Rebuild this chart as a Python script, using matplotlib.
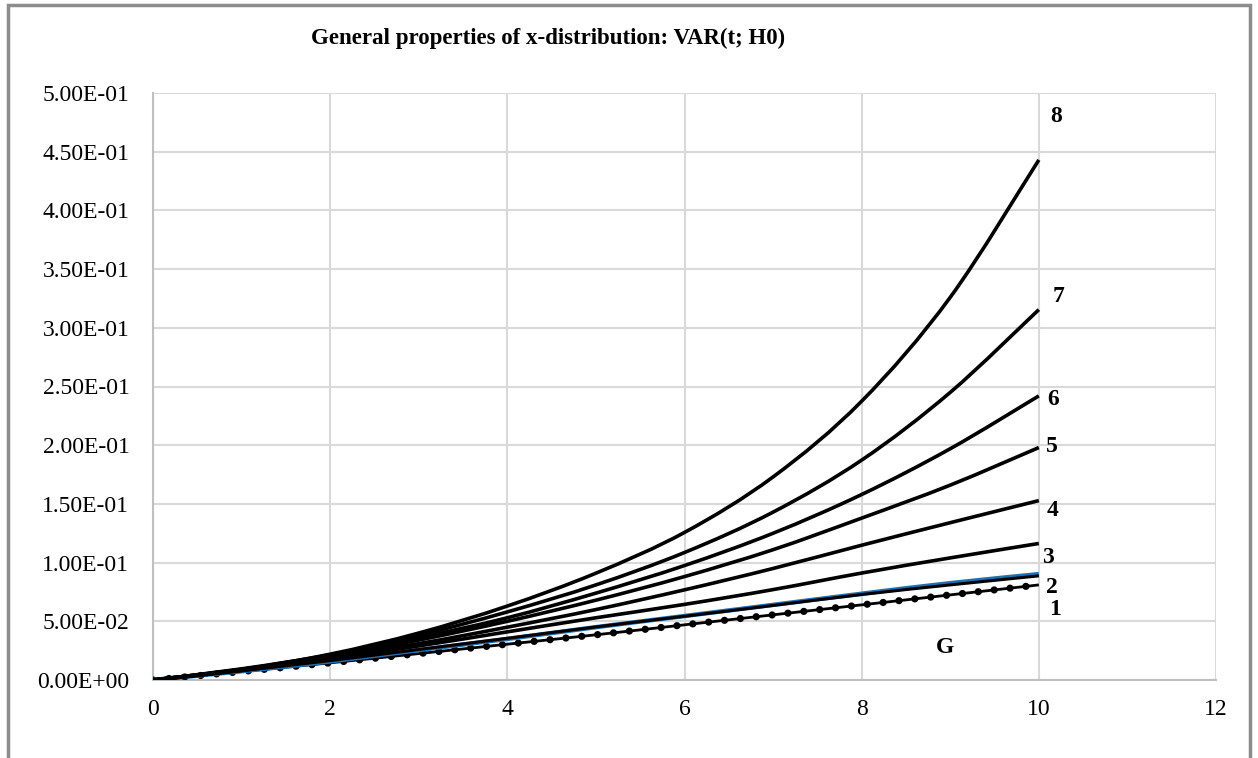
import matplotlib.pyplot as plt
from matplotlib.patches import Rectangle, PathPatch
from matplotlib.path import Path

t = [0, 1, 2, 3, 4, 5, 6, 7, 8, 9, 10]

var_8 = [0, 0.009, 0.022, 0.040, 0.063, 0.091, 0.1257, 0.173, 0.2375, 0.326, 0.443]
var_7 = [0, 0.0095, 0.0215, 0.038, 0.058, 0.081, 0.1086, 0.143, 0.1873, 0.245, 0.3155]
var_6 = [0, 0.009, 0.021, 0.036, 0.053, 0.074, 0.0975, 0.125, 0.158, 0.197, 0.242]
var_5 = [0, 0.009, 0.020, 0.034, 0.050, 0.068, 0.0881, 0.111, 0.1379, 0.166, 0.198]
var_4 = [0, 0.0085, 0.0195, 0.031, 0.045, 0.060, 0.0768, 0.095, 0.1148, 0.134, 0.1528]
var_3 = [0, 0.008, 0.018, 0.029, 0.041, 0.053, 0.0644, 0.077, 0.0911, 0.104, 0.1163]
var_2 = [0, 0.008, 0.0165, 0.026, 0.0355, 0.0452, 0.0543, 0.0635, 0.0728, 0.081, 0.0887]
var_2b = [0, 0.0075, 0.0158, 0.0255, 0.035, 0.045, 0.0545, 0.064, 0.0735, 0.0825, 0.0902]
var_1 = [0, 0.0072, 0.0146, 0.0225, 0.0305, 0.0385, 0.047, 0.0555, 0.064, 0.0725, 0.081]

curves = [var_3, var_4, var_5, var_6, var_7, var_8]


def smooth_line(ax, xs, ys, **kw):
    # excel-like smoothed line: bezier segments through the points
    n = len(xs)
    verts = [(xs[0], ys[0])]
    codes = [Path.MOVETO]
    for i in range(n - 1):
        x0, y0 = xs[max(i - 1, 0)], ys[max(i - 1, 0)]
        x3, y3 = xs[min(i + 2, n - 1)], ys[min(i + 2, n - 1)]
        c1 = (xs[i] + (xs[i + 1] - x0) / 6, ys[i] + (ys[i + 1] - y0) / 6)
        c2 = (xs[i + 1] - (x3 - xs[i]) / 6, ys[i + 1] - (y3 - ys[i]) / 6)
        verts += [c1, c2, (xs[i + 1], ys[i + 1])]
        codes += [Path.CURVE4] * 3
    ax.add_patch(PathPatch(Path(verts, codes), fill=False, **kw))


plt.rcParams['font.family'] = ['Liberation Serif', 'DejaVu Serif']

fig = plt.figure(figsize=(12.58, 7.58), dpi=100)
ax = fig.add_axes([153 / 1258, 1 - 680 / 758, (1216 - 153) / 1258, (680 - 93) / 758])

# outer chart frame
fig.patches.append(Rectangle((8 / 1258, -0.05), 1242 / 1258, 1.05 - 5 / 758,
                             transform=fig.transFigure, fill=False,
                             edgecolor='#8c8c8c', linewidth=2.5))

smooth_line(ax, t, var_1, edgecolor='black', linewidth=2.0, zorder=3)
smooth_line(ax, t, var_1, edgecolor='black', linewidth=5.2,
            linestyle=(0, (0.01, 2.2)), capstyle='round', zorder=3)
smooth_line(ax, t, var_2b, edgecolor='#1f6fb4', linewidth=3.2, zorder=3)
smooth_line(ax, t, var_2, edgecolor='black', linewidth=2.2, zorder=4)
for c in curves:
    smooth_line(ax, t, c, edgecolor='black', linewidth=2.6, zorder=4)

labels = [("8", 10.2, 0.480), ("7", 10.22, 0.327), ("6", 10.16, 0.239),
          ("5", 10.15, 0.199), ("4", 10.16, 0.144), ("3", 10.1, 0.104),
          ("2", 10.15, 0.0786), ("1", 10.18, 0.0598), ("G", 8.94, 0.0273)]
for s, x, y in labels:
    ax.text(x, y, s, fontsize=17, fontweight='bold', ha='center', va='center')

ax.set_xlim(0, 12)
ax.set_ylim(0, 0.5)
ax.set_xticks(range(0, 13, 2))
ax.set_yticks([i * 0.05 for i in range(11)])
ax.set_yticklabels([f"{i * 0.05:.2E}" for i in range(11)])
ax.tick_params(length=0, labelsize=17)
ax.tick_params(axis='y', pad=17)
ax.tick_params(axis='x', pad=14)
ax.grid(color='#d9d9d9', linewidth=1.5)
ax.set_axisbelow(True)
for side in ['top', 'right']:
    ax.spines[side].set_visible(False)
for side in ['left', 'bottom']:
    ax.spines[side].set_color('#bfbfbf')
    ax.spines[side].set_linewidth(1.5)

fig.text(548 / 1258, 1 - 38 / 758, "General properties of x-distribution: VAR(t; H0)",
         fontsize=16.5, fontweight='bold', ha='center', va='center')

fig.savefig("out.png")
